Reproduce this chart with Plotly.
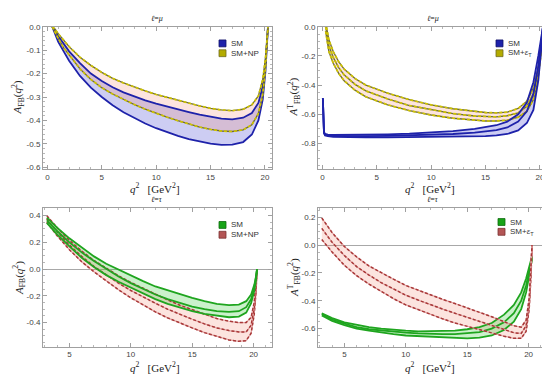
import plotly.graph_objects as go

W, H = 550, 375

# ---------------- data ----------------
# panel 1: l = mu, A_FB
q2_mu = [0.45, 0.7, 1, 1.5, 2, 3, 4, 5, 6, 7, 8, 9, 10, 11, 12, 13, 14, 15, 16, 17, 18, 18.8, 19.4, 19.8, 20.05, 20.2, 20.28]
afb_mu_sm_lo = [0, -0.03, -0.065, -0.105, -0.145, -0.21, -0.26, -0.30, -0.335, -0.365, -0.39, -0.413, -0.433, -0.45, -0.466, -0.479, -0.49, -0.499, -0.504, -0.503, -0.492, -0.46, -0.40, -0.31, -0.19, -0.07, 0]
afb_mu_sm_hi = [0, -0.015, -0.04, -0.075, -0.105, -0.155, -0.20, -0.232, -0.258, -0.28, -0.298, -0.314, -0.328, -0.341, -0.353, -0.364, -0.375, -0.385, -0.392, -0.395, -0.388, -0.368, -0.325, -0.255, -0.155, -0.055, 0]
afb_mu_np_lo = [0, -0.025, -0.05, -0.09, -0.12, -0.18, -0.225, -0.26, -0.287, -0.31, -0.332, -0.352, -0.37, -0.386, -0.401, -0.415, -0.428, -0.438, -0.445, -0.447, -0.44, -0.418, -0.37, -0.29, -0.175, -0.06, 0]
afb_mu_np_hi = [0, -0.01, -0.03, -0.06, -0.085, -0.13, -0.165, -0.195, -0.22, -0.24, -0.258, -0.274, -0.289, -0.302, -0.315, -0.327, -0.338, -0.348, -0.355, -0.358, -0.352, -0.333, -0.295, -0.225, -0.135, -0.045, 0]

# panel 2: l = mu, A^T_FB
q2_mu_t_sm = [0.045, 0.07, 0.1, 0.15, 0.25, 0.5, 1, 2, 4, 6, 8, 10, 12, 14, 15, 16, 17, 18, 18.8, 19.4, 19.85, 20.1, 20.28]
afbt_mu_sm_hi = [-0.49, -0.62, -0.69, -0.72, -0.735, -0.74, -0.742, -0.742, -0.74, -0.737, -0.732, -0.725, -0.715, -0.70, -0.69, -0.675, -0.65, -0.60, -0.52, -0.38, -0.20, -0.09, 0]
afbt_mu_sm_c = [-0.49, -0.62, -0.69, -0.725, -0.74, -0.745, -0.748, -0.75, -0.75, -0.748, -0.745, -0.742, -0.735, -0.725, -0.718, -0.708, -0.69, -0.65, -0.58, -0.46, -0.27, -0.12, 0]
afbt_mu_sm_lo = [-0.49, -0.62, -0.69, -0.73, -0.745, -0.75, -0.754, -0.757, -0.758, -0.758, -0.757, -0.756, -0.755, -0.753, -0.75, -0.745, -0.735, -0.71, -0.66, -0.57, -0.37, -0.17, 0]
q2_mu_t_np = [0.3, 0.6, 1, 1.5, 2, 3, 4, 5, 6, 8, 10, 12, 14, 15, 16, 17, 18, 18.8, 19.4, 19.8, 20.05, 20.2, 20.28]
afbt_mu_np_hi = [0.03, -0.09, -0.17, -0.24, -0.29, -0.355, -0.40, -0.43, -0.455, -0.50, -0.535, -0.562, -0.582, -0.588, -0.59, -0.585, -0.56, -0.51, -0.42, -0.30, -0.18, -0.09, 0]
afbt_mu_np_c = [0.0, -0.13, -0.21, -0.28, -0.33, -0.395, -0.44, -0.47, -0.495, -0.54, -0.57, -0.595, -0.612, -0.617, -0.618, -0.61, -0.59, -0.545, -0.46, -0.33, -0.20, -0.10, 0]
afbt_mu_np_lo = [-0.03, -0.17, -0.25, -0.32, -0.37, -0.435, -0.48, -0.51, -0.535, -0.575, -0.605, -0.627, -0.642, -0.646, -0.646, -0.64, -0.62, -0.58, -0.50, -0.37, -0.22, -0.11, 0]

# panels 3/4: l = tau
q2_tau = [3.16, 4, 5, 6, 7, 8, 9, 10, 11, 12, 13, 14, 15, 16, 17, 18, 18.8, 19.4, 19.8, 20.05, 20.2, 20.28]
afb_tau_sm_hi = [0.385, 0.31, 0.23, 0.16, 0.095, 0.04, -0.005, -0.05, -0.09, -0.13, -0.16, -0.19, -0.215, -0.24, -0.26, -0.27, -0.265, -0.24, -0.19, -0.12, -0.06, 0]
afb_tau_sm_c = [0.365, 0.285, 0.20, 0.125, 0.06, 0.0, -0.055, -0.105, -0.15, -0.19, -0.225, -0.255, -0.28, -0.30, -0.315, -0.32, -0.315, -0.285, -0.225, -0.145, -0.07, 0]
afb_tau_sm_lo = [0.345, 0.26, 0.17, 0.085, 0.015, -0.045, -0.095, -0.14, -0.18, -0.225, -0.26, -0.29, -0.315, -0.335, -0.35, -0.36, -0.355, -0.325, -0.255, -0.165, -0.08, 0]
afb_tau_np_hi = [0.40, 0.31, 0.215, 0.135, 0.065, 0.005, -0.05, -0.10, -0.145, -0.19, -0.23, -0.27, -0.305, -0.34, -0.37, -0.39, -0.40, -0.40, -0.36, -0.25, -0.12, 0]
afb_tau_np_c = [0.375, 0.28, 0.18, 0.095, 0.02, -0.045, -0.105, -0.16, -0.21, -0.255, -0.30, -0.34, -0.375, -0.41, -0.44, -0.46, -0.47, -0.47, -0.42, -0.29, -0.15, 0]
afb_tau_np_lo = [0.35, 0.25, 0.145, 0.055, -0.02, -0.09, -0.155, -0.215, -0.27, -0.32, -0.365, -0.405, -0.44, -0.475, -0.505, -0.53, -0.54, -0.535, -0.48, -0.34, -0.17, 0]

afbt_tau_sm_hi = [-0.49, -0.525, -0.555, -0.575, -0.59, -0.60, -0.61, -0.615, -0.62, -0.62, -0.62, -0.615, -0.605, -0.59, -0.56, -0.50, -0.43, -0.34, -0.24, -0.16, -0.11, -0.08]
afbt_tau_sm_c = [-0.495, -0.535, -0.565, -0.59, -0.605, -0.615, -0.625, -0.63, -0.635, -0.64, -0.64, -0.64, -0.635, -0.625, -0.60, -0.555, -0.49, -0.40, -0.29, -0.19, -0.13, -0.09]
afbt_tau_sm_lo = [-0.505, -0.545, -0.575, -0.60, -0.615, -0.63, -0.64, -0.65, -0.655, -0.66, -0.665, -0.67, -0.67, -0.665, -0.65, -0.61, -0.55, -0.46, -0.34, -0.22, -0.15, -0.10]
afbt_tau_np_hi = [0.195, 0.09, -0.01, -0.085, -0.15, -0.20, -0.245, -0.29, -0.325, -0.36, -0.39, -0.42, -0.45, -0.48, -0.515, -0.55, -0.58, -0.59, -0.54, -0.38, -0.18, 0]
afbt_tau_np_c = [0.12, 0.02, -0.075, -0.155, -0.215, -0.27, -0.315, -0.36, -0.395, -0.43, -0.46, -0.49, -0.52, -0.55, -0.58, -0.61, -0.63, -0.635, -0.58, -0.42, -0.20, 0]
afbt_tau_np_lo = [0.04, -0.05, -0.145, -0.22, -0.28, -0.335, -0.385, -0.43, -0.465, -0.50, -0.53, -0.56, -0.585, -0.61, -0.635, -0.655, -0.67, -0.67, -0.62, -0.46, -0.22, 0]

# tick labels
xt_mu = [0, 5, 10, 15, 20]
xt_tau = [5, 10, 15, 20]
yt_tl = [0.0, -0.1, -0.2, -0.3, -0.4, -0.5, -0.6]
yt_tl_txt = ["0.0", "-0.1", "-0.2", "-0.3", "-0.4", "-0.5", "-0.6"]
yt_tr = [0.0, -0.2, -0.4, -0.6, -0.8]
yt_tr_txt = ["0.0", "-0.2", "-0.4", "-0.6", "-0.8"]
yt_bl = [0.4, 0.2, 0.0, -0.2, -0.4]
yt_bl_txt = ["0.4", "0.2", "0.0", "-0.2", "-0.4"]
yt_br = [0.2, 0.0, -0.2, -0.4, -0.6]
yt_br_txt = ["0.2", "0.0", "-0.2", "-0.4", "-0.6"]

# ---------------- styling ----------------
BLUE = "#1e22aa"
BLUE_FILL = "rgba(60,60,210,0.26)"
YEL = "#cfc400"
YEL_UNDER = "#6f6c3a"
PINK_FILL = "rgba(240,130,110,0.22)"
GREEN = "#1fa51f"
GREEN_FILL = "rgba(20,190,20,0.22)"
RED = "#a83838"
RED_UNDER = "#e2a2a2"
SERIF = "Liberation Serif, Times New Roman, serif"
SANS = "Liberation Sans, Arial, sans-serif"

# frames in pixels: (x0, x1, y0_top, y1_bottom)
frames = {
    1: (35, 264, 15, 160),
    2: (310, 539, 15, 160),
    3: (35, 264, 200, 341),
    4: (310, 539, 200, 341),
}

fig = go.Figure()


def axref(ax):
    return ("x", "y") if ax == 1 else (f"x{ax}", f"y{ax}")


def band(ax, x, lo, hi, fill):
    xa, ya = axref(ax)
    fig.add_trace(go.Scatter(x=x, y=lo, mode="lines", line=dict(width=0, color=fill),
                             xaxis=xa, yaxis=ya, showlegend=False, hoverinfo="skip"))
    fig.add_trace(go.Scatter(x=x, y=hi, mode="lines", line=dict(width=0, color=fill),
                             fill="tonexty", fillcolor=fill,
                             xaxis=xa, yaxis=ya, showlegend=False, hoverinfo="skip"))


def solid(ax, x, y, color, width=1.8):
    xa, ya = axref(ax)
    fig.add_trace(go.Scatter(x=x, y=y, mode="lines", line=dict(width=width, color=color),
                             xaxis=xa, yaxis=ya, showlegend=False, hoverinfo="skip"))


def dashed(ax, x, y, color, under, width=1.7):
    xa, ya = axref(ax)
    fig.add_trace(go.Scatter(x=x, y=y, mode="lines", line=dict(width=width * 0.8, color=under),
                             xaxis=xa, yaxis=ya, showlegend=False, hoverinfo="skip"))
    fig.add_trace(go.Scatter(x=x, y=y, mode="lines",
                             line=dict(width=width, color=color, dash="3px,2px"),
                             xaxis=xa, yaxis=ya, showlegend=False, hoverinfo="skip"))


# panel 1
band(1, q2_mu, afb_mu_sm_lo, afb_mu_sm_hi, BLUE_FILL)
band(1, q2_mu, afb_mu_np_lo, afb_mu_np_hi, PINK_FILL)
for yv in (afb_mu_sm_lo, afb_mu_sm_hi):
    solid(1, q2_mu, yv, BLUE)
for yv in (afb_mu_np_lo, afb_mu_np_hi):
    dashed(1, q2_mu, yv, YEL, YEL_UNDER)

# panel 2
band(2, q2_mu_t_sm, afbt_mu_sm_lo, afbt_mu_sm_hi, BLUE_FILL)
band(2, q2_mu_t_np, afbt_mu_np_lo, afbt_mu_np_hi, PINK_FILL)
for yv in (afbt_mu_np_lo, afbt_mu_np_c, afbt_mu_np_hi):
    dashed(2, q2_mu_t_np, yv, YEL, YEL_UNDER)
for yv in (afbt_mu_sm_lo, afbt_mu_sm_c, afbt_mu_sm_hi):
    solid(2, q2_mu_t_sm, yv, BLUE)

# panel 3
band(3, q2_tau, afb_tau_np_lo, afb_tau_np_hi, PINK_FILL)
band(3, q2_tau, afb_tau_sm_lo, afb_tau_sm_hi, GREEN_FILL)
for yv in (afb_tau_np_lo, afb_tau_np_c, afb_tau_np_hi):
    dashed(3, q2_tau, yv, RED, RED_UNDER, 1.5)
for yv in (afb_tau_sm_lo, afb_tau_sm_c, afb_tau_sm_hi):
    solid(3, q2_tau, yv, GREEN)

# panel 4
band(4, q2_tau, afbt_tau_np_lo, afbt_tau_np_hi, PINK_FILL)
band(4, q2_tau, afbt_tau_sm_lo, afbt_tau_sm_hi, GREEN_FILL)
for yv in (afbt_tau_sm_lo, afbt_tau_sm_c, afbt_tau_sm_hi):
    solid(4, q2_tau, yv, GREEN)
for yv in (afbt_tau_np_lo, afbt_tau_np_c, afbt_tau_np_hi):
    dashed(4, q2_tau, yv, RED, RED_UNDER, 1.5)


def base_axis(domain, rng, tickvals, ticktext, minor_dtick, zeroline=False):
    return dict(
        domain=domain, range=rng, showline=True, linecolor="#a0a0a0", linewidth=1,
        mirror="ticks", ticks="inside", ticklen=4, tickwidth=1, tickcolor="#a0a0a0",
        showgrid=False, zeroline=zeroline, zerolinecolor="#a8a8a8", zerolinewidth=1,
        tickvals=tickvals, ticktext=ticktext,
        tickfont=dict(family=SANS, size=8, color="#444"),
        minor=dict(ticks="inside", ticklen=2, tickcolor="#b8b8b8", dtick=minor_dtick,
                   tick0=0, showgrid=False),
        fixedrange=True,
    )


def xdom(ax):
    f = frames[ax]
    return [f[0] / W, f[1] / W]


def ydom(ax):
    f = frames[ax]
    return [1 - f[3] / H, 1 - f[2] / H]


layout = dict(
    width=W, height=H, margin=dict(l=0, r=0, t=0, b=0),
    paper_bgcolor="white", plot_bgcolor="white", showlegend=False,
)
layout["xaxis"] = base_axis(xdom(1), [-0.4, 20.65], xt_mu, [str(v) for v in xt_mu], 1)
layout["yaxis"] = base_axis(ydom(1), [-0.607, 0.0], yt_tl, yt_tl_txt, 0.02)
layout["xaxis2"] = base_axis(xdom(2), [-0.4, 20.65], xt_mu, [str(v) for v in xt_mu], 1)
layout["yaxis2"] = base_axis(ydom(2), [-0.975, 0.0], yt_tr, yt_tr_txt, 0.05)
layout["xaxis3"] = base_axis(xdom(3), [2.85, 21.5], xt_tau, [str(v) for v in xt_tau], 1)
layout["yaxis3"] = base_axis(ydom(3), [-0.58, 0.455], yt_bl, yt_bl_txt, 0.05, zeroline=True)
layout["xaxis4"] = base_axis(xdom(4), [2.85, 21.5], xt_tau, [str(v) for v in xt_tau], 1)
layout["yaxis4"] = base_axis(ydom(4), [-0.73, 0.265], yt_br, yt_br_txt, 0.05, zeroline=True)
for i in (1, 2, 3, 4):
    xk = "xaxis" if i == 1 else f"xaxis{i}"
    yk = "yaxis" if i == 1 else f"yaxis{i}"
    layout[xk]["anchor"] = "y" if i == 1 else f"y{i}"
    layout[yk]["anchor"] = "x" if i == 1 else f"x{i}"
fig.update_layout(**layout)

annotations = []
shapes = []


def ann(x, y, text, size, family=SERIF, angle=0, xanchor="center", color="#222"):
    annotations.append(dict(x=x / W, y=1 - y / H, xref="paper", yref="paper", text=text,
                            showarrow=False, textangle=angle, xanchor=xanchor, yanchor="middle",
                            font=dict(family=family, size=size, color=color)))


# titles
ann(149.5, 7, "<i>ℓ</i>=<i>μ</i>", 8)
ann(424.5, 7, "<i>ℓ</i>=<i>μ</i>", 8)
ann(149.5, 191, "<i>ℓ</i>=<i>τ</i>", 8)
ann(424.5, 191, "<i>ℓ</i>=<i>τ</i>", 8)
# x titles
xt_title = "<i>q</i><sup>2</sup>\u00a0\u00a0\u00a0[GeV<sup>2</sup>]"
ann(147, 179, xt_title, 11)
ann(422, 179, xt_title, 11)
ann(147, 362, xt_title, 11)
ann(422, 362, xt_title, 11)
# y titles
ann(10, 87, "<i>A</i><sub>FB</sub>(<i>q</i><sup>2</sup>)", 11, angle=-90)
ann(286, 87, "<i>A</i><sup>T</sup><sub>FB</sub>(<i>q</i><sup>2</sup>)", 11, angle=-90)
ann(11, 271, "<i>A</i><sub>FB</sub>(<i>q</i><sup>2</sup>)", 11, angle=-90)
ann(286, 271, "<i>A</i><sup>T</sup><sub>FB</sub>(<i>q</i><sup>2</sup>)", 11, angle=-90)

# legends
legend_items = {
    1: [("SM", BLUE, "#10126a"), ("SM+NP", "#b3ab00", "#6f6a20")],
    2: [("SM", BLUE, "#10126a"), ("SM+<i>ε</i><sub>T</sub>", "#b3ab00", "#6f6a20")],
    3: [("SM", "#17a317", "#0c6a0c"), ("SM+NP", "#b35555", "#7a3030")],
    4: [("SM", "#17a317", "#0c6a0c"), ("SM+<i>ε</i><sub>T</sub>", "#b35555", "#7a3030")],
}
legend_pos = {1: (176, 17), 2: (178, 17), 3: (176, 17), 4: (180, 14)}
for ax, items in legend_items.items():
    fx0, _, fy0, _ = frames[ax]
    dx, dy = legend_pos[ax]
    for k, (label, col, edge) in enumerate(items):
        cx = fx0 + dx
        cy = fy0 + dy + k * 10
        shapes.append(dict(type="rect", xref="paper", yref="paper",
                           x0=cx / W, x1=(cx + 7) / W, y0=1 - (cy + 3.5) / H, y1=1 - (cy - 3.5) / H,
                           fillcolor=col, line=dict(color=edge, width=0.8)))
        ann(cx + 10, cy, label, 8, family=SANS, xanchor="left", color="#333")

fig.update_layout(annotations=annotations, shapes=shapes)
fig.write_html("out.html")
